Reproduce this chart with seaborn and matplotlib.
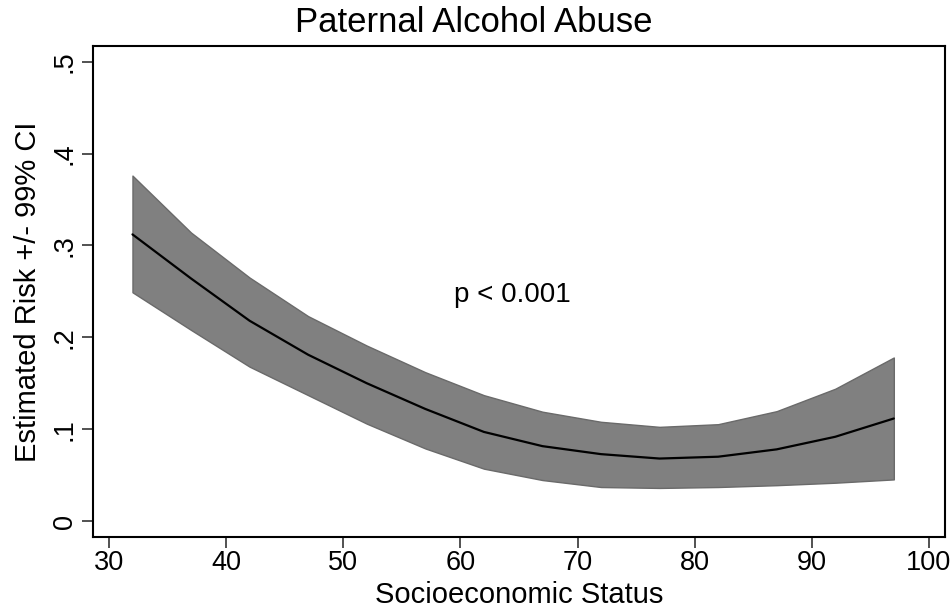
import matplotlib
matplotlib.use("Agg")
import matplotlib.pyplot as plt
import seaborn as sns
import pandas as pd

ses = [32, 37, 42, 47, 52, 57, 62, 67, 72, 77, 82, 87, 92, 97]
risk = [0.312, 0.264, 0.218, 0.181, 0.150, 0.122, 0.097, 0.0815, 0.0728, 0.068, 0.070, 0.078, 0.0917, 0.1116]
upper = [0.376, 0.314, 0.265, 0.223, 0.191, 0.162, 0.137, 0.119, 0.108, 0.1025, 0.1054, 0.1196, 0.144, 0.178]
lower = [0.249, 0.208, 0.168, 0.137, 0.106, 0.079, 0.057, 0.0446, 0.037, 0.036, 0.037, 0.039, 0.0417, 0.0453]
xticks = [30, 40, 50, 60, 70, 80, 90, 100]
yticks = [0, 0.1, 0.2, 0.3, 0.4, 0.5]
ytick_labels = ["0", ".1", ".2", ".3", ".4", ".5"]

df = pd.DataFrame({"ses": ses, "risk": risk, "upper": upper, "lower": lower})

sns.set_theme(style="white")
plt.rcParams["font.family"] = ["Liberation Sans", "DejaVu Sans"]

fig = plt.figure(figsize=(9.53, 6.13), dpi=100)
ax = fig.add_axes([93 / 953, 1 - 537 / 613, (945 - 93) / 953, (537 - 45.7) / 613])

ax.fill_between(df["ses"], df["lower"], df["upper"], facecolor="#808080",
                edgecolor="#6a6a6a", linewidth=1.0, zorder=1)
sns.lineplot(data=df, x="ses", y="risk", color="black", linewidth=1.6, ax=ax, zorder=2)

ax.set_xlim(28.63, 101.37)
ax.set_ylim(-0.0174, 0.5174)
ax.set_xticks(xticks)
ax.set_xticklabels([str(t) for t in xticks])
ax.set_yticks(yticks)
ax.set_yticklabels(ytick_labels, rotation=90, va="center")

ax.tick_params(axis="both", which="major", direction="out", length=8, width=1.2,
               color="#333333", labelsize=19.5, labelcolor="black",
               bottom=True, left=True)
ax.tick_params(axis="y", pad=3)
ax.tick_params(axis="x", pad=1)

for s in ax.spines.values():
    s.set_color("black")
    s.set_linewidth(1.5)

ax.set_xlabel("Socioeconomic Status", fontsize=21, color="black", labelpad=4)
ax.set_ylabel("Estimated Risk +/- 99% CI", fontsize=21, color="black", labelpad=7)

fig.text(0.497, 1 - 32 / 613, "Paternal Alcohol Abuse", fontsize=25, ha="center",
         va="baseline", color="black")
ax.text(64.4, 0.246, "p < 0.001", fontsize=20, ha="center", va="center", color="black")

fig.savefig("out.png", dpi=100, facecolor="white")
